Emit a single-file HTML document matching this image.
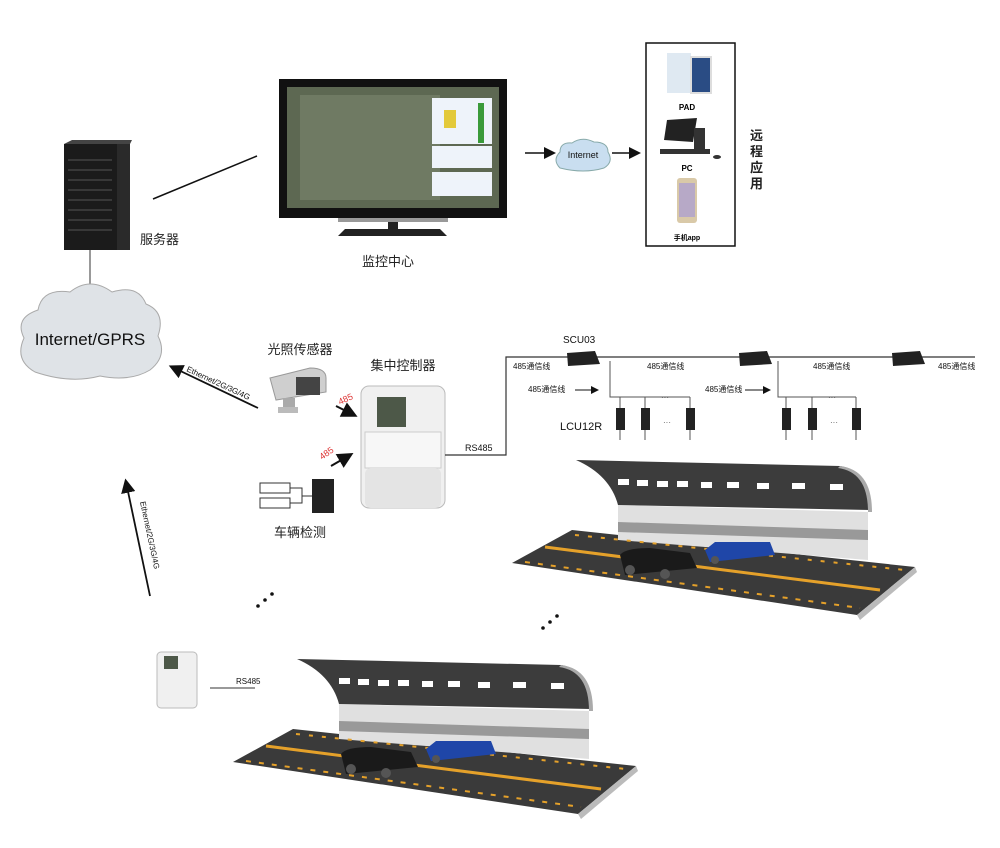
<!DOCTYPE html>
<html><head><meta charset="utf-8"><style>
html,body{margin:0;padding:0;background:#fff}
svg{display:block}
text{font-family:"Liberation Sans","Noto Sans CJK SC",sans-serif}
</style></head><body>
<svg width="1000" height="848" viewBox="0 0 1000 848" xmlns="http://www.w3.org/2000/svg">
<defs>
<marker id="ah" markerWidth="8" markerHeight="8" refX="6" refY="4" orient="auto"><path d="M0,0 L8,4 L0,8 Z" fill="#111"/></marker>
<g id="tunnel">
 <path d="M512,563 L572,530 L915,567 L857,615 Z" fill="#3a3a3a"/>
 <path d="M857,615 L915,567 L917,572 L860,620 Z" fill="#bbb"/>
 <path d="M618,505 L868,512 L868,560 L618,540 Z" fill="#e0e0e0"/>
 <path d="M618,522 L868,530 L868,540 L618,532 Z" fill="#999"/>
 <path d="M576,460 L840,466 Q868,470 870,510 L618,505 Q610,475 576,460 Z" fill="#3c3c3c"/>
 <path d="M840,466 Q872,470 872,512 L868,512 Q868,472 838,468 Z" fill="#aaa"/>
 <g fill="#fff"><rect x="618" y="479" width="11" height="6"/><rect x="637" y="480" width="11" height="6"/><rect x="657" y="481" width="11" height="6"/><rect x="677" y="481" width="11" height="6"/><rect x="701" y="482" width="11" height="6"/><rect x="727" y="482" width="12" height="6"/><rect x="757" y="483" width="12" height="6"/><rect x="792" y="483" width="13" height="6"/><rect x="830" y="484" width="13" height="6"/></g>
 <path d="M545,547 L880,590" stroke="#e5a12a" stroke-width="3"/>
 <path d="M525,562 L860,608" stroke="#e5a12a" stroke-width="2" stroke-dasharray="5,8"/>
 <path d="M575,535 L905,570" stroke="#e5a12a" stroke-width="2" stroke-dasharray="4,9"/>
 <path d="M620,555 Q625,548 650,548 L690,553 L697,568 L625,575 Z" fill="#1a1a1a"/>
 <circle cx="630" cy="570" r="5" fill="#555"/><circle cx="665" cy="574" r="5" fill="#555"/>
 <path d="M705,550 L715,542 L770,542 L775,555 L710,562 Z" fill="#1f46a8"/>
 <circle cx="715" cy="560" r="4" fill="#555"/>
</g>
</defs>

<!-- server -->
<rect x="64" y="144" width="66" height="106" fill="#1b1b1b"/>
<path d="M64,144 L72,140 L132,140 L130,144 Z" fill="#444"/>
<rect x="117" y="144" width="13" height="106" fill="#2a2a2a"/>
<g stroke="#555" stroke-width="1">
<line x1="68" y1="160" x2="112" y2="160"/><line x1="68" y1="170" x2="112" y2="170"/><line x1="68" y1="180" x2="112" y2="180"/><line x1="68" y1="190" x2="112" y2="190"/><line x1="68" y1="200" x2="112" y2="200"/><line x1="68" y1="210" x2="112" y2="210"/><line x1="68" y1="220" x2="112" y2="220"/><line x1="68" y1="230" x2="112" y2="230"/>
</g>
<text x="140" y="244" font-size="13" fill="#222">服务器</text>
<line x1="153" y1="199" x2="257" y2="156" stroke="#111" stroke-width="1.5"/>
<line x1="90" y1="250" x2="90" y2="294" stroke="#555" stroke-width="1.2"/>

<!-- cloud -->
<path d="M35,372 Q14,360 24,338 Q14,318 38,310 Q42,288 70,292 Q90,276 112,292 Q138,284 146,304 Q166,312 158,336 Q168,356 150,370 Q130,382 100,376 Q70,384 35,372 Z" fill="#dfe3e7" stroke="#aaa" stroke-width="1"/>
<text x="90" y="345" font-size="17" text-anchor="middle" fill="#111">Internet/GPRS</text>

<!-- monitor -->
<rect x="279" y="79" width="228" height="139" fill="#111"/>
<rect x="287" y="87" width="212" height="121" fill="#5d6852"/>
<rect x="300" y="95" width="140" height="105" fill="#6f7a63"/>
<rect x="432" y="98" width="60" height="46" fill="#eef3fa"/>
<rect x="432" y="146" width="60" height="22" fill="#eef3fa"/>
<rect x="432" y="172" width="60" height="24" fill="#eef3fa"/>
<rect x="444" y="110" width="12" height="18" fill="#e3c93a"/>
<rect x="478" y="103" width="6" height="40" fill="#3a9a3a"/>
<rect x="338" y="218" width="110" height="4" fill="#999"/>
<rect x="388" y="222" width="10" height="8" fill="#222"/>
<path d="M338,236 L345,229 L440,229 L447,236 Z" fill="#222"/>
<text x="388" y="266" font-size="13" text-anchor="middle" fill="#222">监控中心</text>

<!-- small internet cloud -->
<line x1="525" y1="153" x2="553" y2="153" stroke="#111" stroke-width="1.5" marker-end="url(#ah)"/>
<path d="M560,168 Q552,160 560,152 Q560,142 572,143 Q582,136 594,142 Q608,142 608,152 Q614,162 604,168 Q584,174 560,168 Z" fill="#c9def0" stroke="#8aa" stroke-width="1"/>
<text x="583" y="158" font-size="9" text-anchor="middle" fill="#111">Internet</text>
<line x1="612" y1="153" x2="638" y2="153" stroke="#111" stroke-width="1.5" marker-end="url(#ah)"/>

<!-- remote box -->
<rect x="646" y="43" width="89" height="203" fill="#fff" stroke="#111" stroke-width="1.5"/>
<rect x="667" y="53" width="24" height="40" fill="#dfe9f2"/>
<rect x="691" y="57" width="20" height="36" fill="#2a4c84" stroke="#ddd" stroke-width="2"/>
<text x="687" y="110" font-size="8" font-weight="bold" text-anchor="middle">PAD</text>
<path d="M667,120 L697,118 L693,142 L664,140 Z" fill="#222"/>
<rect x="694" y="128" width="11" height="22" fill="#333"/>
<rect x="660" y="149" width="50" height="5" fill="#333"/>
<ellipse cx="717" cy="157" rx="4" ry="2" fill="#333"/>
<text x="687" y="171" font-size="8" font-weight="bold" text-anchor="middle">PC</text>
<rect x="677" y="178" width="20" height="45" rx="3" fill="#d9c9a8"/>
<rect x="679" y="183" width="16" height="34" fill="#b7a9c7"/>
<text x="687" y="240" font-size="7" font-weight="bold" text-anchor="middle">手机app</text>
<g font-size="13" fill="#222" font-weight="bold"><text x="750" y="140">远</text><text x="750" y="156">程</text><text x="750" y="172">应</text><text x="750" y="188">用</text></g>

<!-- middle -->
<text x="300" y="354" font-size="13" text-anchor="middle" fill="#222">光照传感器</text>
<text x="403" y="370" font-size="13" text-anchor="middle" fill="#222">集中控制器</text>
<path d="M270,378 L310,368 Q326,368 326,378 L326,392 L276,400 Z" fill="#cfcfcf" stroke="#999"/>
<rect x="296" y="377" width="24" height="18" fill="#444"/>
<rect x="283" y="398" width="12" height="10" fill="#aaa"/>
<rect x="278" y="407" width="20" height="6" fill="#bbb"/>
<line x1="336" y1="406" x2="354" y2="415" stroke="#111" stroke-width="2" marker-end="url(#ah)"/>
<text x="340" y="405" font-size="9" fill="#d33" transform="rotate(-25 340 405)">485</text>
<line x1="331" y1="466" x2="350" y2="455" stroke="#111" stroke-width="2" marker-end="url(#ah)"/>
<text x="322" y="460" font-size="9" fill="#d33" transform="rotate(-35 322 460)">485</text>
<rect x="361" y="386" width="84" height="122" rx="8" fill="#f0f0f0" stroke="#bbb"/>
<rect x="377" y="397" width="29" height="30" fill="#4d5848"/>
<rect x="365" y="432" width="76" height="36" fill="#f7f7f7" stroke="#ccc"/>
<rect x="365" y="468" width="76" height="40" rx="6" fill="#e4e4e4"/>
<rect x="260" y="483" width="30" height="10" fill="#fff" stroke="#333"/>
<rect x="260" y="498" width="30" height="10" fill="#fff" stroke="#333"/>
<path d="M290,488 L302,488 L302,503 L290,503 M302,496 L312,496" stroke="#333" fill="none"/>
<rect x="312" y="479" width="22" height="34" fill="#222"/>
<text x="300" y="537" font-size="13" text-anchor="middle" fill="#222">车辆检测</text>

<!-- ethernet arrows -->
<line x1="258" y1="408" x2="172" y2="367" stroke="#111" stroke-width="1.8" marker-end="url(#ah)"/>
<text x="186" y="371" font-size="8" fill="#111" transform="rotate(25 186 371)">Ethernet/2G/3G/4G</text>
<line x1="150" y1="596" x2="126" y2="482" stroke="#111" stroke-width="1.8" marker-end="url(#ah)"/>
<text x="140" y="502" font-size="8" fill="#111" transform="rotate(78 140 502)">Ethernet/2G/3G/4G</text>

<!-- RS485 bus -->
<polyline points="445,455 506,455 506,357 975,357" fill="none" stroke="#333" stroke-width="1.2"/>
<text x="465" y="451" font-size="9" fill="#111">RS485</text>
<text x="563" y="343" font-size="10" fill="#111">SCU03</text>
<g fill="#222"><path d="M567,353 L595,351 L600,364 L568,366 Z"/><path d="M739,353 L767,351 L772,364 L740,366 Z"/><path d="M892,353 L920,351 L925,364 L893,366 Z"/></g>
<g font-size="8" fill="#111"><text x="513" y="369">485通信线</text><text x="647" y="369">485通信线</text><text x="813" y="369">485通信线</text><text x="938" y="369">485通信线</text><text x="528" y="392">485通信线</text><text x="705" y="392">485通信线</text></g>
<line x1="575" y1="390" x2="597" y2="390" stroke="#111" marker-end="url(#ah)"/>
<line x1="745" y1="390" x2="769" y2="390" stroke="#111" marker-end="url(#ah)"/>
<text x="560" y="430" font-size="11" fill="#111">LCU12R</text>
<g stroke="#555" fill="none">
<polyline points="610,361 610,397 690,397"/><line x1="620" y1="397" x2="620" y2="410"/><line x1="645" y1="397" x2="645" y2="410"/><line x1="690" y1="397" x2="690" y2="410"/>
<polyline points="778,361 778,397 856,397"/><line x1="786" y1="397" x2="786" y2="410"/><line x1="812" y1="397" x2="812" y2="410"/><line x1="856" y1="397" x2="856" y2="410"/>
<line x1="620" y1="428" x2="620" y2="440"/><line x1="645" y1="428" x2="645" y2="440"/><line x1="690" y1="428" x2="690" y2="440"/><line x1="786" y1="428" x2="786" y2="440"/><line x1="812" y1="428" x2="812" y2="440"/><line x1="856" y1="428" x2="856" y2="440"/>
</g>
<g fill="#222"><rect x="616" y="408" width="9" height="22"/><rect x="641" y="408" width="9" height="22"/><rect x="686" y="408" width="9" height="22"/><rect x="782" y="408" width="9" height="22"/><rect x="808" y="408" width="9" height="22"/><rect x="852" y="408" width="9" height="22"/></g>
<g font-size="8" fill="#555"><text x="661" y="400">···</text><text x="663" y="425">···</text><text x="828" y="400">···</text><text x="830" y="425">···</text></g>

<use href="#tunnel"/>
<use href="#tunnel" transform="translate(-279,199)"/>

<!-- dots -->
<g fill="#111"><circle cx="258" cy="606" r="1.8"/><circle cx="265" cy="600" r="1.8"/><circle cx="272" cy="594" r="1.8"/><circle cx="543" cy="628" r="1.8"/><circle cx="550" cy="622" r="1.8"/><circle cx="557" cy="616" r="1.8"/></g>

<!-- small controller -->
<rect x="157" y="652" width="40" height="56" rx="4" fill="#f0f0f0" stroke="#bbb"/>
<rect x="164" y="656" width="14" height="13" fill="#4d5848"/>
<line x1="210" y1="688" x2="255" y2="688" stroke="#333"/>
<text x="236" y="684" font-size="8" fill="#111">RS485</text>
</svg>
</body></html>
